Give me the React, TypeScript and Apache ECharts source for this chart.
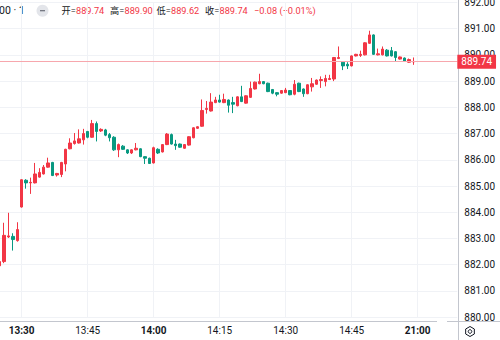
import React, { useEffect, useRef } from "react";
import * as echarts from "echarts";

// Trading sessions (category axis): last bars of the morning, afternoon session, next night session
const sessions = [
  { start: "11:25", bars: 5 },
  { start: "13:30", bars: 90 },
  { start: "21:00", bars: 10 },
];

const openPrices = [
  881.96, 882.12, 883.06, 883.08, 882.92,
  884.20, 885.22, 885.12, 885.12, 885.34, 885.46, 885.72, 885.90, 885.42, 885.44,
  885.84, 886.42, 886.62, 886.64, 886.76, 887.08, 886.86, 887.38, 887.10, 887.14,
  886.96, 886.86, 886.38, 886.52, 886.38, 886.26, 886.38, 886.42, 886.12, 886.06,
  885.88, 886.40, 886.30, 886.58, 886.96, 886.60, 886.60, 886.44, 886.56, 886.84,
  887.20, 887.28, 887.92, 887.86, 888.18, 888.28, 888.18, 888.28, 888.18, 888.06,
  888.40, 888.16, 888.38, 888.70, 888.90, 888.98, 888.92, 888.68, 888.56, 888.54,
  888.56, 888.64, 888.50, 888.92, 888.70, 888.52, 888.78, 888.88, 889.02, 888.98,
  889.06, 889.08, 889.86, 889.72, 889.64, 889.58, 889.96, 889.98, 890.00, 890.44,
  890.76, 890.00, 890.00, 890.18, 890.16, 890.12, 889.84, 889.88, 889.72, 889.74,
];
const closePrices = [
  882.12, 883.12, 883.10, 882.96, 883.34,
  885.24, 885.12, 885.14, 885.46, 885.52, 885.72, 885.88, 885.40, 885.48, 885.90,
  886.40, 886.64, 886.72, 886.80, 887.00, 886.86, 887.38, 887.08, 887.16, 886.94,
  886.84, 886.38, 886.58, 886.40, 886.26, 886.38, 886.44, 886.12, 886.06, 885.86,
  886.46, 886.26, 886.58, 886.98, 886.60, 886.54, 886.48, 886.58, 886.88, 887.22,
  887.26, 887.88, 887.96, 888.20, 888.28, 888.20, 888.30, 888.08, 888.12, 888.40,
  888.22, 888.44, 888.72, 888.96, 888.98, 888.90, 888.60, 888.54, 888.50, 888.64,
  888.66, 888.48, 888.88, 888.60, 888.52, 888.86, 888.90, 889.04, 889.06, 889.10,
  889.10, 889.90, 889.90, 889.58, 889.58, 889.96, 890.02, 890.02, 890.46, 890.76,
  890.02, 890.04, 890.22, 889.96, 889.96, 889.90, 889.92, 889.76, 889.82, 889.74,
];
const lowPrices = [
  881.90, 882.06, 883.02, 882.54, 882.88,
  884.18, 884.90, 884.70, 885.10, 885.32, 885.44, 885.70, 885.38, 885.36, 885.34,
  885.56, 886.40, 886.58, 886.62, 886.58, 886.82, 886.84, 886.70, 887.06, 886.90,
  886.70, 886.34, 886.10, 886.38, 886.22, 886.22, 886.36, 886.10, 885.84, 885.84,
  885.86, 886.22, 886.28, 886.56, 886.58, 886.38, 886.46, 886.42, 886.54, 886.82,
  887.18, 887.26, 887.76, 887.84, 888.16, 888.18, 888.16, 887.80, 887.78, 888.04,
  888.20, 888.14, 888.36, 888.68, 888.88, 888.88, 888.58, 888.50, 888.42, 888.52,
  888.54, 888.46, 888.46, 888.58, 888.40, 888.50, 888.60, 888.86, 888.74, 888.80,
  889.04, 889.00, 889.84, 889.42, 889.46, 889.56, 889.94, 889.92, 889.98, 890.42,
  890.00, 889.98, 889.98, 889.94, 889.94, 889.76, 889.82, 889.74, 889.70, 889.62,
];
const highPrices = [
  882.16, 883.60, 883.98, 883.20, 883.62,
  885.26, 885.26, 885.32, 885.88, 885.68, 885.80, 886.08, 885.92, 885.50, 885.92,
  886.42, 886.82, 887.02, 887.16, 887.18, 887.10, 887.52, 887.46, 887.20, 887.18,
  887.02, 886.90, 886.62, 886.56, 886.40, 886.40, 886.64, 886.44, 886.14, 886.08,
  886.50, 886.44, 886.60, 887.02, 887.00, 886.76, 886.62, 886.60, 886.90, 887.24,
  887.28, 888.30, 888.24, 888.54, 888.40, 888.48, 888.52, 888.30, 888.40, 888.42,
  888.82, 888.46, 888.98, 888.98, 889.28, 889.00, 888.94, 888.70, 888.58, 888.66,
  888.74, 888.66, 889.04, 888.94, 888.72, 888.88, 889.12, 889.06, 889.18, 889.24,
  889.24, 889.92, 890.32, 889.74, 889.72, 889.98, 890.04, 890.16, 890.48, 890.92,
  890.78, 890.24, 890.32, 890.22, 890.30, 890.14, 889.94, 889.90, 889.86, 889.90,
];

const priceMin = 880;
const priceMax = 892;
const priceStep = 1;
const boldTimes = ["13:30", "14:00", "21:00"];
const symbolTail = "00 · 1";
const legendLabels = ["开=", "高=", "低=", "收="];

const UP = "#f23645";
const DOWN = "#089981";
const TEXT = "#131722";
const GRIDC = "#f0f2f6";
const AXISC = "#c3c6ce";
const FONT = 'Roboto, "Noto Sans CJK SC", sans-serif';

function buildCategories(): string[] {
  const out: string[] = [];
  sessions.forEach((s) => {
    const [h, m] = s.start.split(":").map(Number);
    for (let k = 0; k < s.bars; k++) {
      const t = h * 60 + m + k;
      const hh = Math.floor(t / 60);
      const mm = t % 60;
      out.push(`${String(hh).padStart(2, "0")}:${String(mm).padStart(2, "0")}`);
    }
  });
  return out;
}

function isQuarter(name: string): boolean {
  if (!name) return false;
  const mm = Number(name.split(":")[1]);
  return mm % 15 === 0;
}

export default function App() {
  const ref = useRef<HTMLDivElement>(null);

  useEffect(() => {
    if (!ref.current) return;
    const chart = echarts.init(ref.current, undefined, { renderer: "svg" });
    const categories = buildCategories();
    const data = openPrices.map((o, i) => [o, closePrices[i], lowPrices[i], highPrices[i]]);
    const n = data.length;
    const last = data[n - 1];
    const prevClose = closePrices[n - 2];
    const chg = last[1] - prevClose;
    const pct = (chg / prevClose) * 100;
    const fmtSigned = (v: number, d: number) => (v < 0 ? "\u2212" : "+") + Math.abs(v).toFixed(d);

    const legendValues = [last[0], last[3], last[2], last[1]];
    const legendX = [61.5, 110, 156.5, 205];

    const headerY = 10.7;
    const legendFont = `9.2px ${FONT}`;
    const graphics: any[] = [
      {
        type: "text",
        x: -1,
        y: headerY,
        style: { text: symbolTail, fill: TEXT, font: `10.5px ${FONT}`, verticalAlign: "middle" },
      },
      { type: "circle", shape: { cx: 42.5, cy: headerY, r: 6 }, style: { fill: "#e3e5ea" } },
      { type: "rect", shape: { x: 40, y: headerY - 0.6, width: 5, height: 1.2 }, style: { fill: "#6a6d78" } },
      ...legendLabels.map((lab, k) => ({
        type: "text",
        x: legendX[k],
        y: headerY,
        style: { text: lab, fill: TEXT, font: legendFont, verticalAlign: "middle" },
      })),
      ...legendValues.map((v, k) => ({
        type: "text",
        x: legendX[k] + 14.5,
        y: headerY,
        style: { text: v.toFixed(2), fill: UP, font: legendFont, verticalAlign: "middle" },
      })),
      {
        type: "text",
        x: 254,
        y: headerY,
        style: {
          text: `${fmtSigned(chg, 2)} (${fmtSigned(pct, 2)}%)`,
          fill: UP,
          font: legendFont,
          verticalAlign: "middle",
        },
      },
      { type: "line", shape: { x1: 0, y1: 321.5, x2: 437, y2: 321.5 }, style: { stroke: AXISC, lineWidth: 1 } },
      { type: "line", shape: { x1: 447, y1: 321.5, x2: 500, y2: 321.5 }, style: { stroke: AXISC, lineWidth: 1 } },
      { type: "line", shape: { x1: 458.5, y1: 0, x2: 458.5, y2: 340 }, style: { stroke: AXISC, lineWidth: 1 } },
      {
        type: "polygon",
        shape: {
          points: [0, 1, 2, 3, 4, 5].map((k) => {
            const a = (Math.PI / 3) * k + Math.PI / 6;
            return [470 + 5 * Math.cos(a), 331.5 + 5 * Math.sin(a)];
          }),
        },
        style: { fill: "none", stroke: TEXT, lineWidth: 1 },
      },
      { type: "circle", shape: { cx: 470, cy: 331.5, r: 1.8 }, style: { fill: "none", stroke: TEXT, lineWidth: 1 } },
    ];

    chart.setOption({
      animation: false,
      textStyle: { fontFamily: FONT },
      grid: { left: -0.3, right: 42.7, top: 2.4, bottom: 22.8, outerBoundsMode: "none" },
      xAxis: {
        type: "category",
        data: categories,
        boundaryGap: false,
        axisLine: { show: false },
        axisTick: { show: false },
        axisLabel: {
          interval: (_idx: number, val: string) => isQuarter(val),
          margin: 8,
          fontSize: 10,
          color: TEXT,
          formatter: (val: string) => (boldTimes.includes(val) ? `{b|${val}}` : `{r|${val}}`),
          rich: {
            b: { fontWeight: "bold", fontSize: 10, color: TEXT, fontFamily: FONT },
            r: { fontSize: 10, color: TEXT, fontFamily: FONT },
          },
        },
        splitLine: {
          show: true,
          interval: (_idx: number, val: string) => isQuarter(val),
          lineStyle: { color: GRIDC, width: 1 },
        },
      },
      yAxis: {
        type: "value",
        position: "right",
        min: priceMin,
        max: priceMax,
        interval: priceStep,
        scale: true,
        axisLine: { show: false },
        axisTick: { show: false },
        axisLabel: {
          margin: 7,
          fontSize: 10,
          color: TEXT,
          formatter: (v: number) => v.toFixed(2),
        },
        splitLine: { show: true, lineStyle: { color: GRIDC, width: 1 } },
      },
      series: [
        {
          type: "candlestick",
          data,
          barWidth: 3,
          itemStyle: {
            color: UP,
            color0: DOWN,
            borderColor: UP,
            borderColor0: DOWN,
            borderColorDoji: UP,
            borderWidth: 1,
          },
          markLine: {
            silent: true,
            symbol: ["none", "none"],
            animation: false,
            lineStyle: { color: "#f7a7ad", width: 1, type: "solid", opacity: 1 },
            label: {
              show: true,
              position: "end",
              distance: 0,
              formatter: (p: any) => Number(p.value).toFixed(2),
              color: "#ffffff",
              backgroundColor: UP,
              padding: [2, 4, 2, 4],
              fontSize: 10,
              fontFamily: FONT,
            },
            data: [{ yAxis: last[1] }],
          },
        },
      ],
      graphic: graphics,
    });

    return () => chart.dispose();
  }, []);

  return (
    <div
      ref={ref}
      style={{ position: "fixed", left: 0, top: 0, width: 500, height: 340, background: "#ffffff" }}
    />
  );
}
